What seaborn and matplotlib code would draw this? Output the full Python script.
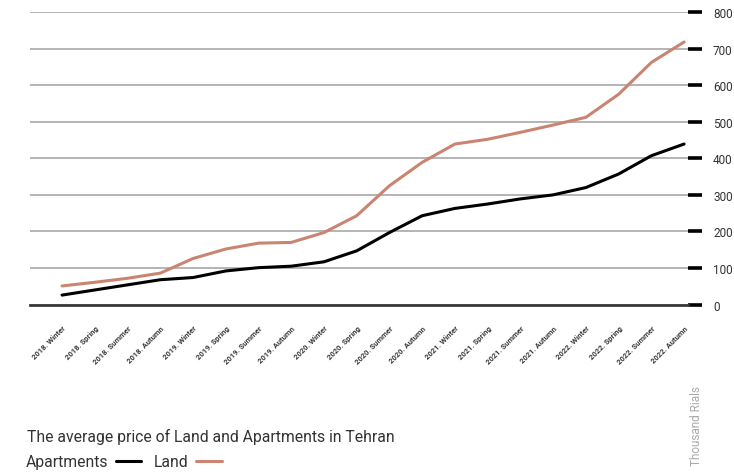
import pandas as pd
import matplotlib.pyplot as plt
import seaborn as sns

# Datos
seasons = ['2018. Winter', '2018. Spring', '2018. Summer', '2018. Autumn',
           '2019. Winter', '2019. Spring', '2019. Summer', '2019. Autumn',
           '2020. Winter', '2020. Spring', '2020. Summer', '2020. Autumn',
           '2021. Winter', '2021. Spring', '2021. Summer', '2021. Autumn',
           '2022. Winter', '2022. Spring', '2022. Summer', '2022. Autumn']
apartments = [26, 40, 54, 68, 74, 92, 101, 105, 117, 147,
              197, 243, 263, 275, 289, 300, 320, 357, 407, 439]
land = [51, 61, 72, 86, 126, 152, 168, 170, 197, 243,
        325, 389, 439, 452, 471, 491, 512, 575, 662, 718]
yticks = [0, 100, 200, 300, 400, 500, 600, 700, 800]

BROWN = '#c98571'

sns.set_theme(style='white')
plt.rcParams['font.family'] = ['Roboto', 'DejaVu Sans']

df = pd.DataFrame({
    'idx': list(range(len(seasons))) * 2,
    'value': apartments + land,
    'series': ['Apartments'] * len(seasons) + ['Land'] * len(seasons),
})

fig = plt.figure(figsize=(7.34, 4.77), dpi=100)
ax = fig.add_axes([30 / 734, 1 - 305.6 / 477, 658 / 734, 292.6 / 477])

sns.lineplot(data=df, x='idx', y='value', hue='series',
             palette={'Apartments': 'black', 'Land': BROWN},
             linewidth=2.2, legend=False, ax=ax)
for l in ax.lines:
    l.set_solid_joinstyle('round')
    l.set_solid_capstyle('round')

ax.set_xlim(-0.98, 19.12)
ax.set_ylim(0, 800)
ax.set_yticks(yticks)
ax.yaxis.tick_right()
ax.tick_params(axis='y', length=10, width=2.6, color='black', pad=8,
               labelsize=8.5, labelcolor='#333333', right=True, left=False)
ax.grid(axis='y', color='#a8a8a8', linewidth=1.2)
ax.set_axisbelow(True)
ax.set_xticks(range(len(seasons)))
ax.set_xticklabels(seasons, rotation=45, ha='right', rotation_mode='anchor',
                   fontsize=5.5, color='#3a3a3a', fontweight='semibold')
ax.tick_params(axis='x', length=0, pad=14)
ax.set_xlabel('')
ax.set_ylabel('')
for s in ['top', 'left', 'right']:
    ax.spines[s].set_visible(False)
ax.spines['bottom'].set_color('#3a3a3a')
ax.spines['bottom'].set_linewidth(2)

fig.text(27 / 734, 1 - 437 / 477, 'The average price of Land and Apartments in Tehran',
         fontsize=11.3, color='#333333', va='center', ha='left')

handles = [plt.Line2D([], [], color='black', linewidth=2.2),
           plt.Line2D([], [], color=BROWN, linewidth=2.2)]
fig.legend(handles, ['Apartments', 'Land'], loc='center left',
           bbox_to_anchor=(26 / 734, 1 - 463 / 477), ncol=2, frameon=False,
           markerfirst=False, fontsize=11.3, handlelength=1.65,
           handletextpad=0.45, columnspacing=0.8, borderpad=0, borderaxespad=0,
           labelcolor='#333333')

fig.text(697 / 734, 1 - 426 / 477, 'Thousand Rials', rotation=90,
         fontsize=8.5, color='#aaaaaa', va='center', ha='center')

fig.savefig('out.png', dpi=100)
